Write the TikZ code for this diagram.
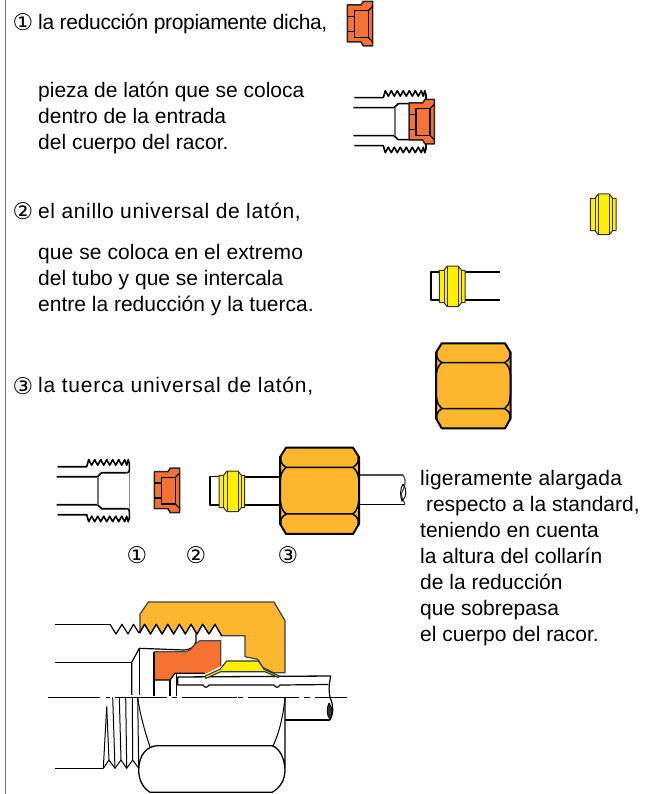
\documentclass[tikz,border=0pt]{standalone}
\usepackage{fontspec}
\setmainfont{Liberation Sans}
\newfontfamily\symf{DejaVu Sans}
\definecolor{orangep}{HTML}{F57232}
\definecolor{nutc}{HTML}{FDB72F}
\definecolor{ringc}{HTML}{FFF000}
\tikzset{
  txt/.style={anchor=west,inner sep=0pt,font=\fontsize{21}{26}\selectfont,align=left},
  num/.style={anchor=center,inner sep=0pt,font=\fontsize{23}{26}\symf},
  ln/.style={draw=black,line width=1.6pt,line join=round},
  orangebody/.style={fill=orangep,draw=black!85,line width=1.5pt,line join=round},
  ringbody/.style={fill=ringc,draw=black!80,line width=1pt,line join=round},
  nutbody/.style={fill=nutc,draw=black,line width=2pt,line join=round},
}
\newcommand{\orangepiece}[2]{%
\begin{scope}[shift={(#1,#2)}]
\path[orangebody] (0,3.7)--(13.7,3.7)--(16,0)--(25.4,0)--(25.4,44.7)--(16,44.7)--(13.7,40.7)--(0,40.7)--cycle;
\path[ln,line width=1.4pt] (0,15)--(7,15)--(7,9.4)--(21,9.4)--(21,36)--(7,36)--(7,30)--(0,30);
\path[ln,line width=1.4pt] (7,15)--(7,30);
\path[ln,line width=1.1pt] (21,9.4)--(25.4,5) (21,36)--(25.4,40.7);
\end{scope}}
\newcommand{\yring}[2]{%
\begin{scope}[shift={(#1,#2)}]
\path[ringbody] (0,4.3)--(4.7,4.3)--(8,0)--(19,0)--(22.3,4.3)--(25.7,4.3)--(25.7,36.7)--(22.3,36.7)--(19,40.7)--(8,40.7)--(4.7,36.7)--(0,36.7)--cycle;
\draw[black!80,line width=.9pt] (4.7,4.3)--(4.7,36.7) (8,0)--(8,40.7) (19,0)--(19,40.7) (22.3,4.3)--(22.3,36.7);
\end{scope}}
\newcommand{\hexnut}[4]{%
\begin{scope}[shift={(#1,#2)},xscale=#3,yscale=#4]
\path[nutbody] (0,9.3)--(5.7,0)--(69,0)--(74.7,9.3)--(74.7,75)--(69,85)--(5.7,85)--(0,75)--cycle;
\draw[black,line width=1.5pt] (6,19.3)--(68.7,19.3) (6,65.3)--(68.7,65.3)
 (6,19.3) .. controls (-0.5,24) and (0,33) .. (0,42) .. controls (0,52) and (0,61) .. (6,65.3)
 (68.7,19.3) .. controls (75.2,24) and (74.7,33) .. (74.7,42) .. controls (74.7,52) and (74.7,61) .. (68.7,65.3)
 (6,19.3) .. controls (1,17) and (0,12) .. (1,9) (68.7,19.3) .. controls (73.7,17) and (74.7,12) .. (73.7,9)
 (6,65.3) .. controls (1,68) and (0,72) .. (1,76) (68.7,65.3) .. controls (73.7,68) and (74.7,72) .. (73.7,76);
\end{scope}}
\newcommand{\fitting}[2]{%
\begin{scope}[shift={(#1,#2)}]
\draw[ln] (-29,-24)--(0,-24)--(2,-31)--(5,-25.5)--(8,-31)--(11,-25.5)--(14,-31)--(17,-25.5)--(20,-31)--(23,-25.5)--(26,-31)--(29,-25.5)--(32,-31)--(35,-25.5)--(38,-31)--(40,-25.5)--(41.5,-31)--(42.7,-27)--(42.7,-21) .. controls (42.7,-18.5) and (42,-18) .. (40,-18);
\draw[ln] (-30,-14)--(10.7,-14)--(15,-18)--(40,-18);
\draw[ln] (-30,14)--(10.7,14)--(15,18)--(40,18);
\draw[ln] (-29,24)--(0,24)--(2,31)--(5,25.5)--(8,31)--(11,25.5)--(14,31)--(17,25.5)--(20,31)--(23,25.5)--(26,31)--(29,25.5)--(32,31)--(35,25.5)--(38,31)--(40,25.5)--(41.5,31)--(42.7,27)--(42.7,21) .. controls (42.7,18.5) and (42,18) .. (40,18);
\draw[black!55,line width=2pt] (11.5,-14)--(11.5,14);
\draw[black!45,line width=.8pt] (42.7,-18)--(42.7,18);
\end{scope}}
\begin{document}
\begin{tikzpicture}[x=1pt,y=-1pt]
\useasboundingbox (0,0) rectangle (649,794);
\fill[white] (0,0) rectangle (649,794);
\draw[black!55,line width=1.6pt] (5.5,0)--(5.5,794);
% texts
\node[num] (n1) at (23,22) {①};
\node[txt] (t1) at (38,23.5) {\addfontfeature{LetterSpace=-1.5}la reducción propiamente dicha,};
\node[txt] (t2) at (38,118) {pieza de latón que se coloca\\dentro de la entrada\\del cuerpo del racor.};
\node[num] (n2) at (23,211) {②};
\node[txt] (t3) at (38,212) {\addfontfeature{LetterSpace=3}el anillo universal de latón,};
\node[txt] (t4) at (38,280) {\addfontfeature{LetterSpace=0.5}que se coloca en el extremo\\del tubo y que se intercala\\entre la reducción y la tuerca.};
\node[num] (n3) at (23,386) {③};
\node[txt] (t5) at (38,386) {\addfontfeature{LetterSpace=3.6}la tuerca universal de latón,};
\node[txt] (t6) at (420,558) {\addfontfeature{LetterSpace=1.2}ligeramente alargada\\ \ respecto a la standard,\\teniendo en cuenta\\la altura del collarín\\de la reducción\\que sobrepasa\\el cuerpo del racor.};
\node[num] (n4) at (137,555) {①};
\node[num] (n5) at (196,555) {②};
\node[num] (n6) at (288,555) {③};
% piece 1
\orangepiece{347.3}{1.3}
% assembly 1
\fitting{383.3}{121.7}
\orangepiece{409}{99.3}
% ring alone
\yring{590.3}{194}
% tube + ring
\draw[ln] (445,271.7)--(430.7,271.7)--(430.7,300)--(445,300) (465,271.7)--(500,271.7) (465,300)--(500,300);
\yring{439.3}{266}
% nut alone
\hexnut{436}{343.3}{1}{1}
% exploded
\fitting{86.7}{490.7}
\orangepiece{154.3}{468}
\draw[ln] (222,476.3)--(210,476.3)--(210,505)--(222,505);
\draw[ln] (244,476.7)--(282,476.7) (244,505)--(282,505);
\yring{219}{471}
\draw[black!70,line width=1.5pt] (359,475)--(403,475);
\draw[ln] (359,504.3)--(405,504.3);
\draw[black!70,line width=1.2pt] (403,475) .. controls (407,480) and (405,487) .. (401,494) .. controls (402,498) and (404,501) .. (405,504.3);
\draw[black,line width=1pt] (403,484) .. controls (400,488) and (400,497) .. (402,501) .. controls (407,497) and (407,489) .. (403,484);
\hexnut{280}{447.7}{1.058}{1.015}
% ---- section ----
\draw[ln,line width=1.2pt] (55,624.3)--(110,624.3);
\draw[ln,line width=1.2pt] (55,662.3)--(131.7,662.3);
\draw[ln,line width=1.2pt] (55,768.3)--(103.3,768.3);
\path[nutbody,line width=1.2pt,draw=black!75] (140,614)--(148.3,602)--(274,602)--(285,620.7)--(285,672.7)--(273.3,672.7)--(262.7,667.3)--(257.7,659.3)--(245,656.7)--(245,635.7)--(221.7,635.7)--(215,624.3)--(209,634)--(202.7,624.3)--(197,634)--(191,624.3)--(185.3,634)--(179.4,624.3)--(173.7,634)--(167.8,624.3)--(162.1,634)--(156.2,624.3)--(150.5,634)--(144.6,624.3)--(140,633)--cycle;
\draw[ln,line width=1.2pt] (110,624.3)--(116,634)--(122,624.3)--(128,634)--(133.5,624.3)--(139,633);
\draw[ln,line width=1.2pt] (196,633.3)--(196,642) .. controls (194,647) and (190,650) .. (184,650)--(139.3,648.3)--(131.7,662.3)--(131.7,695);
\draw[ln,line width=1.2pt] (139.3,648.3)--(139.3,695);
\draw[ln,line width=1.2pt] (139,633)--(144.6,624.3)--(150.5,634)--(156.2,624.3)--(162.1,634)--(167.8,624.3)--(173.7,634)--(179.4,624.3)--(185.3,634)--(191,624.3)--(197,634)--(202.7,624.3)--(209,634)--(215,624.3)--(221.7,635.7);
\path[fill=orangep] (154,651.7)--(186,651.7) .. controls (192,651) and (194,643) .. (200,640.7)--(220.7,640.7)--(220.7,666)--(206.7,673.3)--(175,673.3)--(170,680)--(154,680)--cycle;
\draw[black!70,line width=1.2pt] (154,651.7)--(186,651.7) .. controls (192,651) and (194,643) .. (200,640.7)--(220.7,640.7)--(220.7,666);
\draw[black,line width=1.2pt] (154,696)--(154,651.7);
\draw[black,line width=1.2pt] (205,673.3)--(175,673.3)--(170,680)--(154,680);
\draw[black,line width=1.2pt] (170,680)--(170,696) (176.7,674)--(176.7,696);
\draw[ln,line width=1.3pt] (177.7,685)--(177.7,677)--(330.7,676);
\draw[ln,line width=1.2pt] (177.7,685)--(203,685) .. controls (205,688) and (207,688) .. (209,685)--(274,685) .. controls (276,688) and (278,688) .. (280,685)--(328.3,684.5);
\draw[ln,line width=1.3pt] (285,720)--(330,720);
\draw[ln,line width=1.2pt] (330.7,676) .. controls (329,685) and (328,692) .. (331,700) .. controls (334,708) and (333,714) .. (330,720);
\draw[black,line width=1pt,fill=black!80] (329,703) .. controls (326,709) and (327,716) .. (330,719) .. controls (333,714) and (333,709) .. (329,703);
\path[ringbody,line width=1.1pt] (205,676)--(220,669.3)--(226.7,661)--(258.3,661)--(264,669.3)--(279.3,676)--(278.3,677.5)--(265,671.7)--(220.7,671.7)--(206,678.3)--cycle;
\draw[black,line width=1.1pt] (48.3,697.3)--(100,697.3) (105.7,697.3)--(110,697.3) (115,697.3)--(166.7,697.3) (171.7,697.3)--(177.3,697.3) (182.3,697.3)--(236.7,697.3) (238.3,697.3)--(243.3,697.3) (248.3,697.3)--(299.3,697.3) (304.3,697.3)--(310,697.3) (315,697.3)--(346.7,697.3);
\draw[ln,line width=1pt] (106.7,706.7)--(103.3,768.3)--(109,760)--(115,768.3)--(121,760)--(126.7,768.3)--(132.7,760)--(138.7,768.3);
\draw[ln,line width=1pt] (106.7,706.7)--(109,760) (112.7,697.3)--(115,768.3) (119.3,697.3)--(121,760) (125.7,697.3)--(126.7,768.3) (132.3,697.3)--(132.7,760) (137.7,697.3)--(138.7,768.3);
\draw[ln,line width=1pt] (137.7,697.3) .. controls (140,715) and (145,732) .. (150,746.7);
\draw[ln,line width=1.3pt] (285,697.3)--(285,770) .. controls (285,780) and (280,788) .. (272,792.3)--(150,792.3) .. controls (143,788) and (138.7,780) .. (138.7,770) .. controls (138.7,755) and (147,745.7) .. (158,745.7)--(272,745.7) .. controls (280,748) and (285,760) .. (285,770);
\draw[ln,line width=1pt] (285,697.3) .. controls (283,718) and (279,733) .. (273,746);
\end{tikzpicture}
\end{document}
